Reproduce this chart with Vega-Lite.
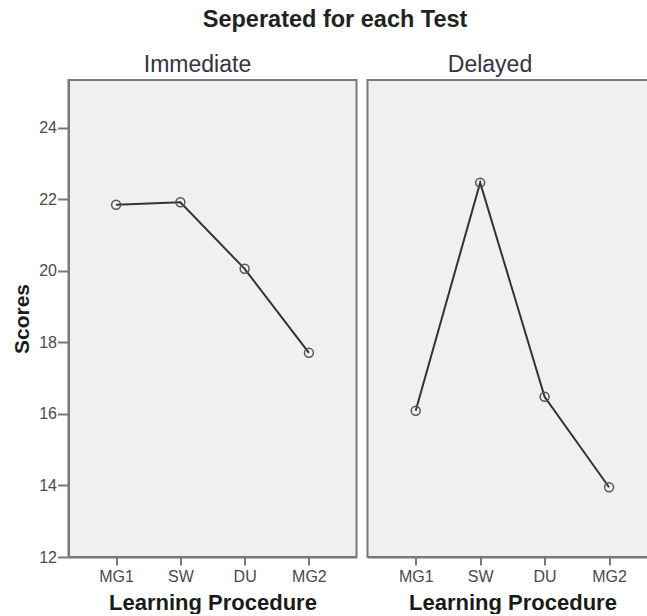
{
  "$schema": "https://vega.github.io/schema/vega-lite/v6.json",
  "background": "white",
  "padding": {"left": 10.5, "top": 7, "right": 0, "bottom": 0},
  "spacing": 9,
  "title": {"text": "Seperated for each Test", "font": "Liberation Sans", "fontSize": 23.5, "fontWeight": "bold", "color": "#222222", "anchor": "middle", "dx": 5, "offset": 22},
  "config": {
    "view": {"fill": "#f0f0f0", "stroke": "#787878", "strokeWidth": 2},
    "axis": {
      "labelFont": "Liberation Sans", "labelFontSize": 16, "labelColor": "#4a4a4a",
      "titleFont": "Liberation Sans", "titleFontSize": 22, "titleFontWeight": "bold", "titleColor": "#1a1a1a",
      "domainColor": "#787878", "domainWidth": 2, "tickColor": "#787878", "tickWidth": 2,
      "grid": false
    },
    "title": {"font": "Liberation Sans", "fontSize": 23, "fontWeight": "normal", "color": "#333344"}
  },
  "data": {"values": [
    {"test": "Immediate", "procedure": "MG1", "score": 21.85},
    {"test": "Immediate", "procedure": "SW", "score": 21.92},
    {"test": "Immediate", "procedure": "DU", "score": 20.06},
    {"test": "Immediate", "procedure": "MG2", "score": 17.71},
    {"test": "Delayed", "procedure": "MG1", "score": 16.09},
    {"test": "Delayed", "procedure": "SW", "score": 22.47},
    {"test": "Delayed", "procedure": "DU", "score": 16.48},
    {"test": "Delayed", "procedure": "MG2", "score": 13.95}
  ]},
  "hconcat": [
    {
      "width": 288, "height": 477,
      "title": {"text": "Immediate", "dx": -15, "offset": 3},
      "transform": [{"filter": "datum.test === 'Immediate'"}],
      "encoding": {
        "x": {"field": "procedure", "type": "ordinal", "sort": ["MG1", "SW", "DU", "MG2"],
              "scale": {"type": "point", "padding": 0.74},
              "axis": {"title": "Learning Procedure", "labelAngle": 0, "tickSize": 8, "labelPadding": 3, "titlePadding": 8}},
        "y": {"field": "score", "type": "quantitative",
              "scale": {"domain": [12, 25.34], "nice": false, "zero": false},
              "axis": {"title": "Scores", "values": [12, 14, 16, 18, 20, 22, 24], "tickSize": 11, "labelPadding": 1, "titlePadding": 6, "titleFontSize": 21}}
      },
      "layer": [
        {"mark": {"type": "line", "color": "#333333", "strokeWidth": 2}},
        {"mark": {"type": "point", "filled": false, "stroke": "#555555", "strokeWidth": 1.5, "size": 80, "opacity": 1}}
      ]
    },
    {
      "width": 281, "height": 477,
      "title": {"text": "Delayed", "dx": -18, "offset": 3},
      "transform": [{"filter": "datum.test === 'Delayed'"}],
      "encoding": {
        "x": {"field": "procedure", "type": "ordinal", "sort": ["MG1", "SW", "DU", "MG2"],
              "scale": {"type": "point", "padding": 0.68, "align": 0.55},
              "axis": {"title": "Learning Procedure", "labelAngle": 0, "tickSize": 8, "labelPadding": 3, "titlePadding": 8, "titleX": 145}},
        "y": {"field": "score", "type": "quantitative",
              "scale": {"domain": [12, 25.34], "nice": false, "zero": false},
              "axis": null}
      },
      "layer": [
        {"mark": {"type": "line", "color": "#333333", "strokeWidth": 2}},
        {"mark": {"type": "point", "filled": false, "stroke": "#555555", "strokeWidth": 1.5, "size": 80, "opacity": 1}}
      ]
    }
  ]
}
